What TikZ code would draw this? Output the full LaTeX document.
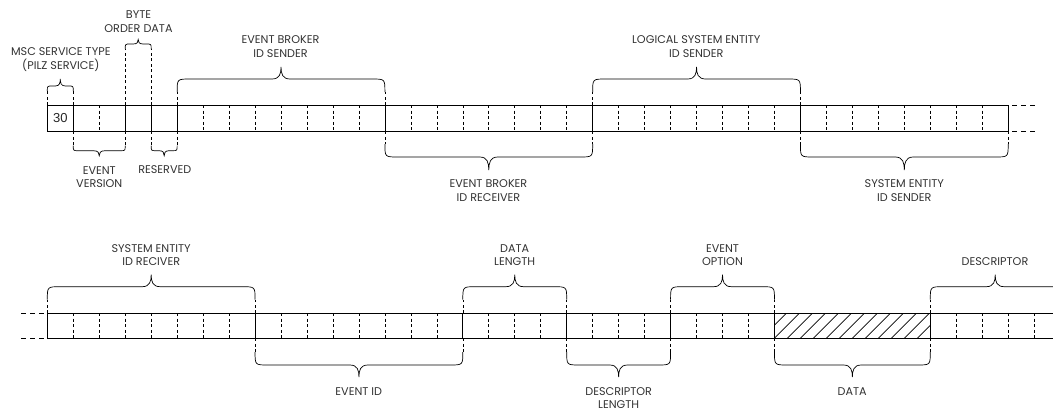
\documentclass[tikz,border=0pt]{standalone}
\usepackage{fontspec}
\setmainfont{Poppins}
\newfontfamily\numfont{Liberation Sans}
\tikzset{
  rowline/.style={line width=0.8pt},
  celldash/.style={line width=0.6pt, dash pattern=on 3pt off 2.6pt},
  bracedash/.style={line width=0.6pt, dash pattern=on 3pt off 2.5pt},
  braceline/.style={line width=0.7pt},
  contdash/.style={line width=0.8pt, dash pattern=on 5pt off 4pt},
  hatchline/.style={line width=0.6pt},
  lab/.style={font=\fontsize{11.2}{13.5}\selectfont, align=center, text=black!80, inner sep=0pt},
}
% brace: #1 first cell index, #2 last cell index, #3 row edge y, #4 horizontal y,
% #5 sign (-1 above, +1 below), #6 corner radius, #7 tip half width, #8 tip height
\newcommand{\Brc}[8]{%
  \pgfmathsetmacro\bxl{47.3+(#1)*25.97}%
  \pgfmathsetmacro\bxr{47.3+(#2)*25.97}%
  \pgfmathsetmacro\bxm{(\bxl+\bxr)/2}%
  \pgfmathsetmacro\byc{#4-(#5)*(#6)}%
  \pgfmathsetmacro\byt{#4+(#5)*(#8)}%
  \pgfmathsetmacro\byk{#4+(#5)*(#8)*0.45}%
  \draw[bracedash] (\bxl,#3) -- (\bxl,\byc);
  \draw[bracedash] (\bxr,#3) -- (\bxr,\byc);
  \draw[braceline] (\bxl,\byc) .. controls (\bxl,#4) .. ({\bxl+#6},#4) -- ({\bxm-#7},#4)
     .. controls ({\bxm-0.15*#7},#4) and (\bxm,\byk) .. (\bxm,\byt)
     .. controls (\bxm,\byk) and ({\bxm+0.15*#7},#4) .. ({\bxm+#7},#4)
     -- ({\bxr-#6},#4) .. controls (\bxr,#4) .. (\bxr,\byc);
}
\begin{document}
\begin{tikzpicture}[x=1pt,y=-1pt]
\useasboundingbox (0,0) rectangle (1053,408);

% ---------- row 1 ----------
\foreach \i in {2,6,7,...,12,14,15,...,20,22,23,...,28,30,31,...,36}
  \draw[celldash] ({47.3+\i*25.97},105) -- ({47.3+\i*25.97},131.3);
\draw[rowline] (47.3,105) -- (1008.2,105);
\draw[rowline] (47.3,131.3) -- (1008.2,131.3);
\foreach \i in {0,1,3,4,5,13,21,29,37}
  \draw[rowline] ({47.3+\i*25.97},105) -- ({47.3+\i*25.97},131.3);
\draw[contdash] (1012,105) -- (1036,105);
\draw[contdash] (1012,131.3) -- (1036,131.3);
\node[font=\numfont\fontsize{13}{13}\selectfont, inner sep=0pt, text=black!85] (n30) at (60.4,118.3) {30};

\Brc{0}{1}{105}{86}{-1}{5}{5}{7}
\Brc{3}{4}{105}{44}{-1}{5}{5}{4.5}
\Brc{5}{13}{105}{79}{-1}{13}{9}{12}
\Brc{21}{29}{105}{79}{-1}{13}{9}{12}
\Brc{1}{3}{131.3}{150.7}{1}{5}{6}{5}
\Brc{4}{5}{131.3}{150.7}{1}{5}{5}{5}
\Brc{13}{21}{131.3}{157}{1}{13}{9}{13}
\Brc{29}{37}{131.3}{157}{1}{13}{9}{13}

\node[lab] (msc) at (60.8,59.5) {MSC SERVICE TYPE\\(PILZ SERVICE)};
\node[lab] (bod) at (138.5,21.5) {BYTE\\ORDER DATA};
\node[lab] (ev) at (99.3,177) {EVENT\\VERSION};
\node[lab] (res) at (164.8,170) {RESERVED};
\node[lab] (ebs) at (280.5,46.5) {EVENT BROKER\\ID SENDER};
\node[lab] (lse) at (696.3,46.5) {LOGICAL SYSTEM ENTITY\\ID SENDER};
\node[lab] (ebr) at (488.4,190.5) {EVENT BROKER\\ID RECEIVER};
\node[lab] (ses) at (904.3,190.5) {SYSTEM ENTITY\\ID SENDER};

% ---------- row 2 ----------
\begin{scope}
  \clip ({47.3+28*25.97},313) rectangle ({47.3+34*25.97},338.3);
  \foreach \k in {-2,...,13}
    \draw[hatchline] ({774.3+13*\k},338.3) -- ({774.3+13*\k+25.3},313);
\end{scope}
\foreach \i in {1,...,7,9,10,...,15,17,18,19,21,22,23,25,26,27,35,36,37,38}
  \draw[celldash] ({47.3+\i*25.97},313) -- ({47.3+\i*25.97},338.3);
\draw[rowline] (47.3,313) -- (1060,313);
\draw[rowline] (47.3,338.3) -- (1060,338.3);
\foreach \i in {0,8,16,20,24,28,34}
  \draw[rowline] ({47.3+\i*25.97},313) -- ({47.3+\i*25.97},338.3);
\draw[contdash] (21,313) -- (46,313);
\draw[contdash] (21,338.3) -- (46,338.3);

\Brc{0}{8}{313}{286.7}{-1}{13}{9}{12}
\Brc{16}{20}{313}{286.7}{-1}{13}{9}{12}
\Brc{24}{28}{313}{286.7}{-1}{13}{9}{12}
\Brc{34}{39}{313}{286.7}{-1}{13}{9}{12}
\Brc{8}{16}{338.3}{365}{1}{13}{9}{12}
\Brc{20}{24}{338.3}{365}{1}{13}{9}{12}
\Brc{28}{34}{338.3}{365}{1}{13}{9}{12}

\node[lab] (ser) at (151.2,255.3) {SYSTEM ENTITY\\ID RECIVER};
\node[lab] (dl) at (514.7,255.3) {DATA\\LENGTH};
\node[lab] (eo) at (722.5,255.3) {EVENT\\OPTION};
\node[lab] (desc) at (995,261.5) {DESCRIPTOR};
\node[lab] (eid) at (358.8,391.7) {EVENT ID};
\node[lab] (dlen) at (618.7,398) {DESCRIPTOR\\LENGTH};
\node[lab] (data) at (852.2,391.7) {DATA};
\end{tikzpicture}
\end{document}
